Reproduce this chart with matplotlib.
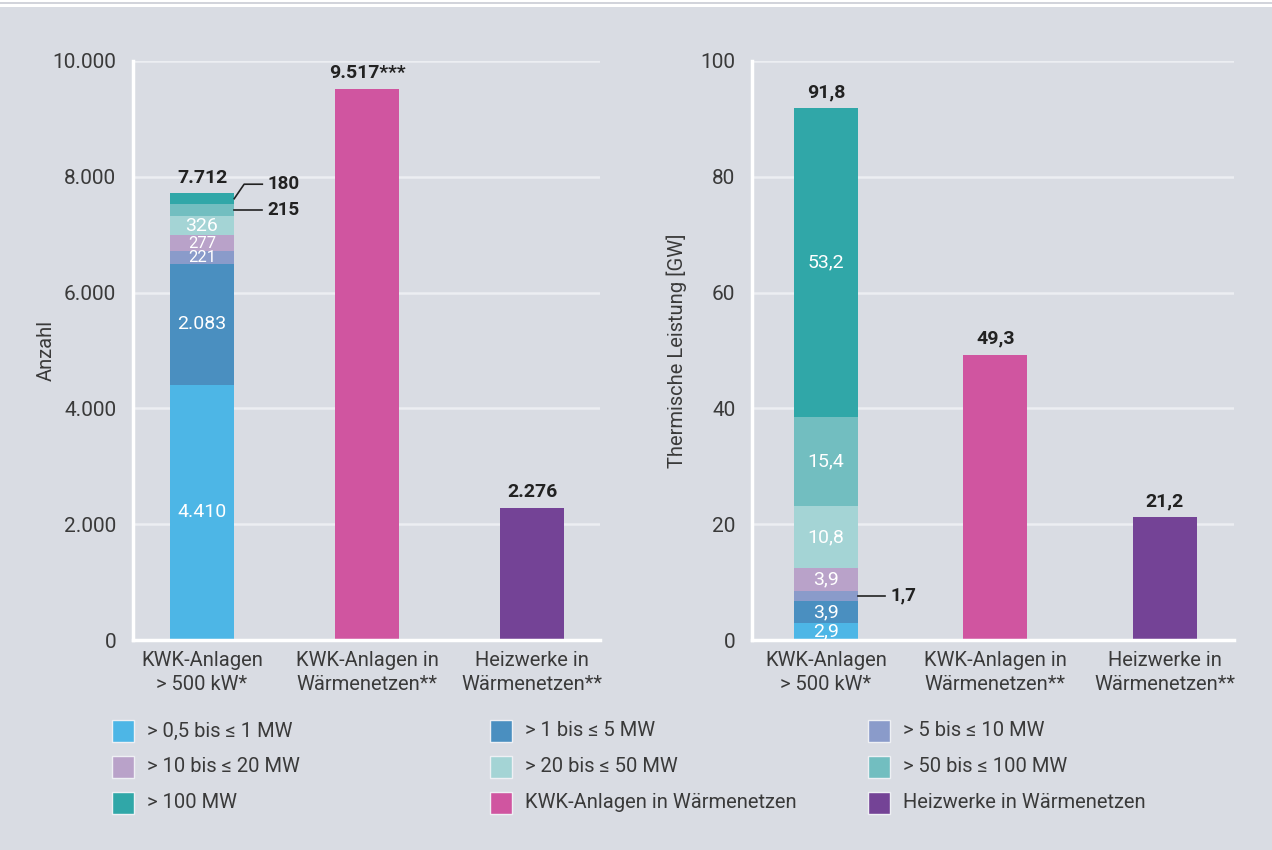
import matplotlib
matplotlib.use("Agg")
import matplotlib.pyplot as plt
from matplotlib.patches import Rectangle
from matplotlib.lines import Line2D

plt.rcParams['font.family'] = ['Roboto', 'DejaVu Sans']

# ---- data ----
categories = ["KWK-Anlagen\n> 500 kW*", "KWK-Anlagen in\nWärmenetzen**", "Heizwerke in\nWärmenetzen**"]
size_classes = ["> 0,5 bis ≤ 1 MW", "> 1 bis ≤ 5 MW", "> 5 bis ≤ 10 MW",
                "> 10 bis ≤ 20 MW", "> 20 bis ≤ 50 MW", "> 50 bis ≤ 100 MW", "> 100 MW"]
class_colors = ["#4db6e6", "#4a8fc0", "#8a9bca", "#b9a2c9", "#a4d4d5", "#72bec0", "#30a7a8"]

count_by_class = [4410, 2083, 221, 277, 326, 215, 180]
count_kwk_netz = 9517
count_heizwerke = 2276

heat_by_class = [2.9, 3.9, 1.7, 3.9, 10.8, 15.4, 53.2]
heat_kwk_netz = 49.3
heat_heizwerke = 21.2

color_kwk = "#d055a0"
color_heiz = "#744396"
legend_labels = size_classes + ["KWK-Anlagen in Wärmenetzen", "Heizwerke in Wärmenetzen"]
legend_colors = class_colors + [color_kwk, color_heiz]

count_ticks = [0, 2000, 4000, 6000, 8000, 10000]
heat_ticks = [0, 20, 40, 60, 80, 100]

BG = "#d9dce3"
TXT = "#3a3a3a"
DARK = "#222222"


def fmt_int(v):
    return f"{v:,.0f}".replace(",", ".")


def fmt_dec(v):
    return f"{v:.1f}".replace(".", ",")


fig = plt.figure(figsize=(12.72, 8.5), dpi=100, facecolor=BG)

# white strip along the top edge
fig.patches.append(Rectangle((0, 1 - 7 / 850), 1, 7 / 850, transform=fig.transFigure,
                             facecolor="white", edgecolor="none", zorder=0))
fig.lines.append(Line2D([0, 1], [1 - 3 / 850, 1 - 3 / 850], transform=fig.transFigure,
                        color="#c9ccd4", lw=1.2))

ax1 = fig.add_axes([133 / 1272, 210 / 850, 467 / 1272, 579 / 850])
ax2 = fig.add_axes([752 / 1272, 210 / 850, 482 / 1272, 579 / 850])


def style_axes(ax, ticks, labels, ylabel, xlim, lab_x):
    ax.set_facecolor(BG)
    ax.set_ylim(ticks[0], ticks[-1])
    ax.set_xlim(*xlim)
    ax.set_yticks(ticks)
    ax.set_yticklabels(labels, fontsize=15, color=TXT)
    ax.set_xticks(range(len(categories)))
    ax.set_xticklabels(categories, fontsize=14.5, color=TXT, linespacing=1.3)
    ax.tick_params(axis="both", length=0)
    ax.tick_params(axis="y", pad=12)
    ax.tick_params(axis="x", pad=8)
    for s in ["top", "right"]:
        ax.spines[s].set_visible(False)
    for s in ["left", "bottom"]:
        ax.spines[s].set_color("white")
        ax.spines[s].set_linewidth(2.5)
    ax.grid(axis="y", color="#eceef2", lw=1.8)
    ax.set_axisbelow(True)
    ax.set_ylabel(ylabel, fontsize=14.5, color=TXT)
    ax.yaxis.set_label_coords(lab_x, 0.5)


style_axes(ax1, count_ticks, [fmt_int(t) for t in count_ticks], "Anzahl", (-0.418, 2.41), -0.165)
style_axes(ax2, heat_ticks, [str(t) for t in heat_ticks], "Thermische Leistung [GW]", (-0.437, 2.41), -0.135)


def stacked(ax, values, width, fmt, inside, small, total_txt, total):
    bottom = 0
    mids = []
    for v, c in zip(values, class_colors):
        ax.bar(0, v, width=width, bottom=bottom, color=c, edgecolor="none", zorder=2)
        mids.append(bottom + v / 2)
        bottom += v
    for i in inside:
        ax.text(0, mids[i], fmt(values[i]), ha="center", va="center",
                color="white", fontsize=12 if i in small else 14, zorder=3)
    ax.text(0, total, total_txt, ha="center", va="bottom", fontsize=14,
            fontweight="bold", color=DARK)
    return mids


# left panel: number of plants
w1 = 0.39
mids1 = stacked(ax1, count_by_class, w1, fmt_int, [0, 1, 2, 3, 4], [2, 3],
                fmt_int(sum(count_by_class)), sum(count_by_class) + 120)
ax1.bar(1, count_kwk_netz, width=w1, color=color_kwk, zorder=2)
ax1.bar(2, count_heizwerke, width=w1, color=color_heiz, zorder=2)
ax1.text(1, count_kwk_netz + 120, fmt_int(count_kwk_netz) + "***", ha="center", va="bottom",
         fontsize=14, fontweight="bold", color=DARK)
ax1.text(2, count_heizwerke + 120, fmt_int(count_heizwerke), ha="center", va="bottom",
         fontsize=14, fontweight="bold", color=DARK)

# leader lines for the two small top segments
ax1.plot([w1 / 2, w1 / 2 + 0.06, w1 / 2 + 0.17], [mids1[6], mids1[6] + 250, mids1[6] + 250],
         color=DARK, lw=1.2)
ax1.text(w1 / 2 + 0.2, mids1[6] + 250, fmt_int(count_by_class[6]), ha="left", va="center",
         fontsize=13.5, fontweight="bold", color=DARK)
ax1.plot([w1 / 2, w1 / 2 + 0.17], [mids1[5], mids1[5]], color=DARK, lw=1.2)
ax1.text(w1 / 2 + 0.2, mids1[5], fmt_int(count_by_class[5]), ha="left", va="center",
         fontsize=13.5, fontweight="bold", color=DARK)

# right panel: thermal capacity
w2 = 0.378
mids2 = stacked(ax2, heat_by_class, w2, fmt_dec, [0, 1, 3, 4, 5, 6], [],
                fmt_dec(sum(heat_by_class)), sum(heat_by_class) + 1.2)
ax2.bar(1, heat_kwk_netz, width=w2, color=color_kwk, zorder=2)
ax2.bar(2, heat_heizwerke, width=w2, color=color_heiz, zorder=2)
ax2.text(1, heat_kwk_netz + 1.2, fmt_dec(heat_kwk_netz), ha="center", va="bottom",
         fontsize=14, fontweight="bold", color=DARK)
ax2.text(2, heat_heizwerke + 1.2, fmt_dec(heat_heizwerke), ha="center", va="bottom",
         fontsize=14, fontweight="bold", color=DARK)
ax2.plot([w2 / 2, w2 / 2 + 0.16], [mids2[2], mids2[2]], color=DARK, lw=1.2)
ax2.text(w2 / 2 + 0.19, mids2[2], fmt_dec(heat_by_class[2]), ha="left", va="center",
         fontsize=13.5, fontweight="bold", color=DARK)

# legend, three columns laid out row by row
col_x = [112, 490, 868]
row_y = [731, 767, 803]
sq = 22
for k, (lab, col) in enumerate(zip(legend_labels, legend_colors)):
    r, c = divmod(k, 3)
    x0 = col_x[c]
    y0 = row_y[r]
    fig.patches.append(Rectangle((x0 / 1272, (850 - y0 - sq / 2) / 850), sq / 1272, sq / 850,
                                 transform=fig.transFigure, facecolor=col,
                                 edgecolor="#eef0f4", lw=1.0))
    fig.text((x0 + sq + 13) / 1272, (850 - y0) / 850, lab, ha="left", va="center",
             fontsize=14.5, color=TXT)

fig.savefig("out.png", dpi=100, facecolor=BG)
